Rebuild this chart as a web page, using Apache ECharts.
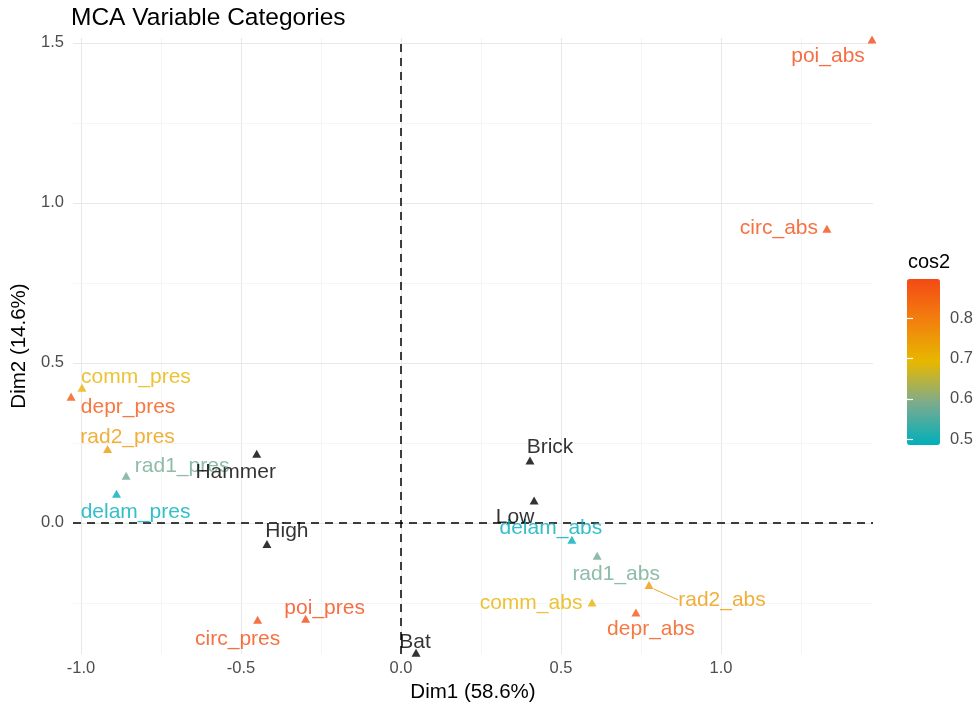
<!DOCTYPE html>
<html>
<head>
<meta charset="utf-8">
<script src="https://cdn.jsdelivr.net/npm/echarts@6/dist/echarts.min.js"></script>
<style>
html,body{margin:0;padding:0;background:#fff;}
#chart{width:976px;height:708px;}
</style>
</head>
<body>
<div id="chart"></div>
<script>
// ---- data ----
const activeNames = ['poi_abs','circ_abs','comm_pres','depr_pres','rad2_pres','rad1_pres','delam_pres','circ_pres','poi_pres','delam_abs','rad1_abs','rad2_abs','comm_abs','depr_abs'];
const activeDim1 = [1.472, 1.331, -0.997, -1.031, -0.917, -0.859, -0.889, -0.448, -0.298, 0.534, 0.613, 0.775, 0.597, 0.734];
const activeDim2 = [1.510, 0.919, 0.422, 0.394, 0.231, 0.147, 0.091, -0.303, -0.300, -0.053, -0.103, -0.194, -0.249, -0.280];
const activeCos2 = [0.898, 0.890, 0.700, 0.875, 0.745, 0.580, 0.485, 0.890, 0.898, 0.485, 0.580, 0.745, 0.700, 0.875];

const suppNames = ['Hammer','High','Bat','Brick','Low'];
const suppDim1 = [-0.451, -0.419, 0.047, 0.403, 0.416];
const suppDim2 = [0.216, -0.066, -0.406, 0.195, 0.070];

const xTicks = [-1.0, -0.5, 0.0, 0.5, 1.0];
const yTicks = [0.0, 0.5, 1.0, 1.5];
const xMinor = [-0.75, -0.25, 0.25, 0.75, 1.25];
const yMinor = [-0.25, 0.25, 0.75, 1.25];
const cos2Ticks = [0.5, 0.6, 0.7, 0.8];

// ---- layout / style config ----
const xRange = [-1.025, 1.475];
const yRange = [-0.41, 1.515];
const cos2Range = [0.485, 0.898];
const labelOffsets = {
  poi_abs:[-44,17], circ_abs:[-48,-1], comm_pres:[54,-11], depr_pres:[57,10],
  rad2_pres:[20,-12], rad1_pres:[56,-10], delam_pres:[19,19], circ_pres:[-20,19],
  poi_pres:[19,-11], delam_abs:[-21,-12], rad1_abs:[19,18], rad2_abs:[73,15],
  comm_abs:[-61,1], depr_abs:[15,17],
  Hammer:[-21,19], High:[20,-13], Bat:[-1,-11], Brick:[20,-13], Low:[-19,17]
};
const FONT = '"Liberation Sans", Arial, Helvetica, sans-serif';

const activeData = activeNames.map((n, i) => {
  const d = {name: n, value: [activeDim1[i], activeDim2[i], activeCos2[i]]};
  if (n === 'rad2_abs') d.labelLine = {show: true, lineStyle: {width: 1, color: '#E9A62A'}};
  return d;
});
const suppData = suppNames.map((n, i) => ({name: n, value: [suppDim1[i], suppDim2[i]]}));

const gridMarks = [];
xTicks.forEach(v => gridMarks.push({xAxis: v, lineStyle: {color: '#E8E8E8', width: 1.1, type: 'solid'}}));
xMinor.forEach(v => gridMarks.push({xAxis: v, lineStyle: {color: '#F2F2F2', width: 0.8, type: 'solid'}}));
yTicks.forEach(v => gridMarks.push({yAxis: v, lineStyle: {color: '#E8E8E8', width: 1.1, type: 'solid'}}));
yMinor.forEach(v => gridMarks.push({yAxis: v, lineStyle: {color: '#F2F2F2', width: 0.8, type: 'solid'}}));
gridMarks.push({xAxis: 0, lineStyle: {color: '#000', width: 1.5, type: [8, 6]}});
gridMarks.push({yAxis: 0, lineStyle: {color: '#000', width: 1.5, type: [8, 6]}});

const layoutFn = function (p) {
  const o = labelOffsets[p.text] || [0, 0];
  return {dx: o[0], dy: o[1]};
};

const chart = echarts.init(document.getElementById('chart'), null, {renderer: 'canvas'});
chart.setOption({
  animation: false,
  backgroundColor: '#fff',
  textStyle: {fontFamily: FONT},
  title: [
    {text: 'MCA Variable Categories', left: 66, top: 1,
     textStyle: {fontFamily: FONT, fontSize: 24.5, fontWeight: 'normal', color: '#000'}},
    {text: 'cos2', left: 903, top: 247,
     textStyle: {fontFamily: FONT, fontSize: 20, fontWeight: 'normal', color: '#000'}}
  ],
  grid: [
    {left: 73, right: 103, top: 38, bottom: 54, containLabel: false},
    {left: 907, top: 279, width: 33, height: 166, containLabel: false}
  ],
  xAxis: [
    {type: 'value', gridIndex: 0, min: xRange[0], max: xRange[1],
     name: 'Dim1 (58.6%)', nameLocation: 'middle', nameGap: 26,
     nameTextStyle: {fontFamily: FONT, fontSize: 20.5, color: '#000'},
     axisLine: {show: false},
     axisTick: {show: true, length: 4, customValues: xTicks, lineStyle: {color: '#333', width: 1}},
     axisLabel: {customValues: xTicks, formatter: v => v.toFixed(1), color: '#4D4D4D', fontSize: 16.5, margin: 6, fontFamily: FONT},
     splitLine: {show: false}},
    {type: 'value', gridIndex: 1, show: false, min: 0, max: 1}
  ],
  yAxis: [
    {type: 'value', gridIndex: 0, min: yRange[0], max: yRange[1],
     name: 'Dim2 (14.6%)', nameLocation: 'middle', nameGap: 38, nameRotate: 90,
     nameTextStyle: {fontFamily: FONT, fontSize: 20.5, color: '#000'},
     axisLine: {show: false},
     axisTick: {show: true, length: 4, customValues: yTicks, lineStyle: {color: '#333', width: 1}},
     axisLabel: {customValues: yTicks, formatter: v => v.toFixed(1), color: '#4D4D4D', fontSize: 16.5, margin: 9, fontFamily: FONT},
     splitLine: {show: false}},
    {type: 'value', gridIndex: 1, min: cos2Range[0], max: cos2Range[1], position: 'right', z: 10,
     axisLine: {show: false},
     axisTick: {show: true, inside: true, length: 6, customValues: cos2Ticks, lineStyle: {color: '#fff', width: 1.2}},
     axisLabel: {customValues: cos2Ticks, formatter: v => v.toFixed(1), color: '#4D4D4D', fontSize: 16.5, margin: 10, fontFamily: FONT},
     splitLine: {show: false}},
    {type: 'value', gridIndex: 1, min: cos2Range[0], max: cos2Range[1], position: 'left', z: 10,
     axisLine: {show: false},
     axisTick: {show: true, inside: true, length: 6, customValues: cos2Ticks, lineStyle: {color: '#fff', width: 1.2}},
     axisLabel: {show: false},
     splitLine: {show: false}}
  ],
  visualMap: {
    type: 'continuous', min: cos2Range[0], max: cos2Range[1], dimension: 2, seriesIndex: 0,
    inRange: {color: ['#00AFBB', '#7BAB8E', '#E7B800', '#F2800E', '#F44A14']},
    left: 907, top: 279, itemWidth: 33, itemHeight: 166, padding: 0,
    calculable: false, hoverLink: false, text: null, showLabel: false, z: 4
  },
  series: [
    {type: 'scatter', name: 'active', xAxisIndex: 0, yAxisIndex: 0, clip: false,
     symbol: 'triangle', symbolSize: [9, 8], z: 3,
     data: activeData,
     label: {show: true, position: 'inside', formatter: '{b}', color: 'inherit', fontSize: 21, fontFamily: FONT},
     labelLine: {show: false},
     labelLayout: layoutFn,
     emphasis: {disabled: true},
     markLine: {silent: true, symbol: 'none', z: 1, label: {show: false}, emphasis: {disabled: true}, data: gridMarks}
    },
    {type: 'scatter', name: 'supp', xAxisIndex: 0, yAxisIndex: 0, clip: false,
     symbol: 'triangle', symbolSize: [9, 8], z: 3,
     itemStyle: {color: '#000'},
     data: suppData,
     label: {show: true, position: 'inside', formatter: '{b}', color: '#000', fontSize: 21, fontFamily: FONT},
     labelLayout: layoutFn,
     emphasis: {disabled: true}
    }
  ]
});
</script>
</body>
</html>
